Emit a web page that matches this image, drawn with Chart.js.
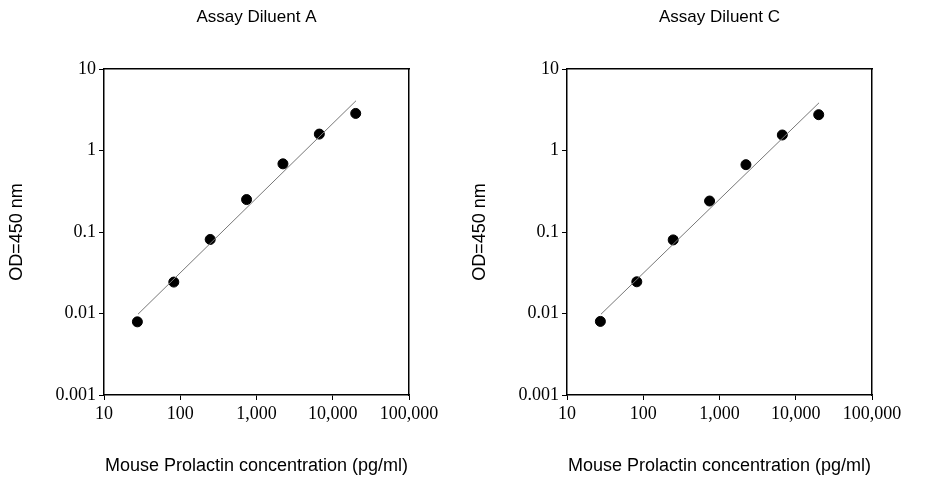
<!DOCTYPE html>
<html><head><meta charset="utf-8">
<script src="https://cdn.jsdelivr.net/npm/chart.js@4.4.1/dist/chart.umd.min.js"></script>
<style>
body{margin:0;background:#fff;width:926px;height:480px;overflow:hidden}
.wrap{display:flex}
.c{width:463px;height:480px;position:relative}
</style></head><body>
<div class="wrap"><div class="c"><canvas id="a"></canvas></div><div class="c"><canvas id="b"></canvas></div></div>
<script>
const CONC = [27.4, 82.3, 247, 741, 2222, 6667, 20000];
const OD_A = [0.0079, 0.0243, 0.081, 0.25, 0.686, 1.59, 2.85];
const OD_C = [0.0080, 0.0245, 0.080, 0.24, 0.67, 1.55, 2.75];
const FIT_X = [27.9, 20200];
const FIT_A = [0.0098, 4.08];
const FIT_C = [0.0098, 3.85];
const X_TICKS = [10, 100, 1000, 10000, 100000];
const Y_TICKS = [0.001, 0.01, 0.1, 1, 10];
const TITLES = ['Assay Diluent A', 'Assay Diluent C'];
const X_TITLE = 'Mouse Prolactin concentration (pg/ml)';
const Y_TITLE = 'OD=450 nm';

const labels = {
  id: 'labels',
  afterDraw(chart, args, opts) {
    const { ctx, chartArea: a } = chart;
    ctx.save();
    ctx.fillStyle = '#000';
    ctx.textAlign = 'center';
    ctx.textBaseline = 'middle';
    ctx.font = '17px "Liberation Sans", Arial, sans-serif';
    ctx.fillText(opts.title, (a.left + a.right) / 2, 17);
    ctx.font = '18px "Liberation Sans", Arial, sans-serif';
    ctx.fillText(X_TITLE, (a.left + a.right) / 2, 466);
    ctx.translate(17, (a.top + a.bottom) / 2);
    ctx.rotate(-Math.PI / 2);
    ctx.fillText(Y_TITLE, 0, 0);
    ctx.restore();
  }
};

function make(id, od, fit, title) {
  const tickFont = { family: '"Liberation Serif", "Times New Roman", serif', size: 18 };
  new Chart(document.getElementById(id), {
    type: 'scatter',
    data: { datasets: [
      { data: FIT_X.map((x, i) => ({ x, y: fit[i] })), showLine: true, borderColor: '#777', borderWidth: 1, pointRadius: 0 },
      { data: CONC.map((x, i) => ({ x, y: od[i] })), backgroundColor: '#000', borderColor: '#000', pointRadius: 5 }
    ] },
    options: {
      responsive: true, maintainAspectRatio: false, animation: false,
      layout: { padding: { top: 69, right: 54, left: 0, bottom: 0 } },
      plugins: { legend: { display: false }, tooltip: { enabled: false }, labels: { title } },
      scales: {
        x: { type: 'logarithmic', min: 10, max: 100000,
          afterBuildTicks: s => { s.ticks = X_TICKS.map(v => ({ value: v })); },
          afterFit: s => { s.height = 85; },
          grid: { drawOnChartArea: false, tickLength: 5, color: '#000' },
          border: { color: '#000', width: 1.5 },
          ticks: { color: '#000', font: tickFont, maxRotation: 0, padding: 3, callback: v => v.toLocaleString('en-US') } },
        y: { type: 'logarithmic', min: 0.001, max: 10,
          afterBuildTicks: s => { s.ticks = Y_TICKS.map(v => ({ value: v })); },
          afterFit: s => { s.width = 104; },
          grid: { drawOnChartArea: false, tickLength: 5, color: '#000' },
          border: { color: '#000', width: 1.5 },
          ticks: { color: '#000', font: tickFont, padding: 3, callback: v => String(v) } },
        x2: { type: 'linear', position: 'top', display: true, grid: { display: false }, ticks: { display: false }, border: { color: '#000', width: 1.5 }, afterFit: s => { s.height = 0; } },
        y2: { type: 'linear', position: 'right', display: true, grid: { display: false }, ticks: { display: false }, border: { color: '#000', width: 1.5 }, afterFit: s => { s.width = 0; } }
      }
    },
    plugins: [labels]
  });
}
make('a', OD_A, FIT_A, TITLES[0]);
make('b', OD_C, FIT_C, TITLES[1]);
</script></body></html>
